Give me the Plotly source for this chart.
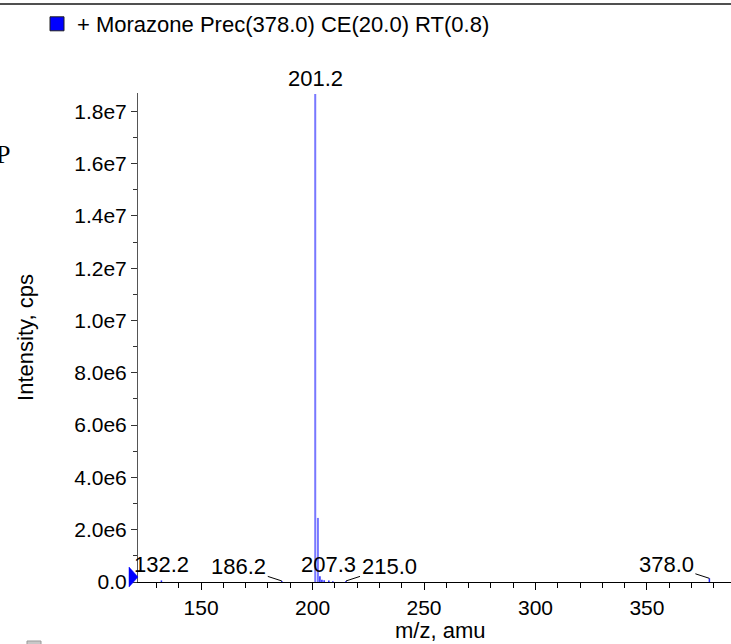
import plotly.graph_objects as go

# ---- data ----
mz = [132.2, 186.2, 201.2, 202.4, 203.3, 204.2, 205.2, 207.3, 209.1, 215.0, 378.0]
intensity = [6e4, 4e4, 1.866e7, 2.45e6, 2.2e5, 9e4, 7e4, 6e4, 3e4, 4e4, 1.4e5]
label_mz = [132.2, 186.2, 201.2, 207.3, 215.0, 378.0]
label_text = ["132.2", "186.2", "201.2", "207.3", "215.0", "378.0"]
y_tickvals = [0, 2e6, 4e6, 6e6, 8e6, 1.0e7, 1.2e7, 1.4e7, 1.6e7, 1.8e7]
y_ticktext = ["0.0", "2.0e6", "4.0e6", "6.0e6", "8.0e6", "1.0e7", "1.2e7", "1.4e7", "1.6e7", "1.8e7"]
x_range = [121.7, 387.7]
y_range = [0, 1.87e7]
series_name = "+ Morazone Prec(378.0) CE(20.0) RT(0.8)"
x_title = "m/z, amu"
y_title = "Intensity, cps"

FONT = "Liberation Sans, Arial, Helvetica, sans-serif"
L, T, B = 138, 93, 62
W, H = 731, 644
PW, PH = W - L, H - T - B


def px_x(p):
    return (p - L) / PW


def px_y(p):
    return (H - B - p) / PH


def sticks(xs, ys):
    sx, sy = [], []
    for a, b in zip(xs, ys):
        sx += [a, a, None]
        sy += [0, b, None]
    return sx, sy


big = [(a, b) for a, b in zip(mz, intensity) if b >= 1e6]
small = [(a, b) for a, b in zip(mz, intensity) if b < 1e6]

fig = go.Figure()
sx, sy = sticks([a for a, _ in small], [b for _, b in small])
fig.add_trace(go.Scatter(x=sx, y=sy, mode="lines", line=dict(color="#2020ff", width=1.5),
                         showlegend=False, hoverinfo="skip"))
bx, by = sticks([a for a, _ in big], [b for _, b in big])
fig.add_trace(go.Scatter(x=bx, y=by, mode="lines", line=dict(color="#7878ff", width=2),
                         showlegend=False, hoverinfo="skip"))
# legend entry
fig.add_trace(go.Scatter(x=[None], y=[None], mode="markers", name=series_name,
                         marker=dict(symbol="square", color="#0000ff", size=14,
                                     line=dict(color="#202020", width=1))))

# peak labels
lookup = dict(zip(mz, intensity))
offsets = {"132.2": None, "186.2": (-43, -14), "201.2": None, "207.3": None,
           "215.0": (43, -14), "378.0": (-43, -14)}
for m, t in zip(label_mz, label_text):
    off = offsets[t]
    if off is None:
        fig.add_annotation(x=m, y=lookup[m], text=t, showarrow=False, yanchor="bottom",
                           yshift=1, font=dict(family=FONT, size=22, color="black"))
    else:
        fig.add_annotation(x=m, y=lookup[m], text=t, showarrow=True, ax=off[0], ay=off[1],
                           arrowhead=0, arrowwidth=1, arrowcolor="black", standoff=0,
                           font=dict(family=FONT, size=22, color="black"))

# x axis title
fig.add_annotation(xref="paper", yref="paper", x=px_x(440), y=px_y(630), text=x_title,
                   showarrow=False, xanchor="center", yanchor="middle",
                   font=dict(family=FONT, size=22, color="black"))

# blue triangle marker on the y axis at zero
fig.add_shape(type="path", xref="paper", yref="paper", xsizemode="pixel", ysizemode="pixel",
              xanchor=0, yanchor=0, path="M -9,15 L 0,5 L -9,-5 Z",
              fillcolor="#0000ff", line=dict(color="#0000ff", width=0.5))

# stray clipped glyph at left edge
fig.add_annotation(xref="paper", yref="paper", x=px_x(12), y=px_y(154),
                   text="P", showarrow=False, xanchor="right", yanchor="middle",
                   font=dict(family="Liberation Serif, serif", size=26, color="black"))

# top frame line
fig.add_shape(type="line", xref="paper", yref="paper", x0=px_x(0), x1=px_x(W),
              y0=px_y(4), y1=px_y(4), line=dict(color="#505050", width=2))
# partially visible square at bottom left
fig.add_shape(type="rect", xref="paper", yref="paper",
              x0=px_x(27), x1=px_x(41), y0=px_y(656), y1=px_y(641),
              fillcolor="#c8c8c8", line=dict(color="#999999", width=1))

fig.update_layout(
    width=W, height=H,
    margin=dict(l=L, r=0, t=T, b=B),
    paper_bgcolor="white", plot_bgcolor="white",
    font=dict(family=FONT, size=21, color="black"),
    showlegend=True,
    legend=dict(x=px_x(37), y=px_y(3), xanchor="left", yanchor="top",
                bgcolor="rgba(0,0,0,0)", font=dict(family=FONT, size=22, color="black"),
                itemwidth=30),
    xaxis=dict(range=x_range, showgrid=False, zeroline=False, showline=True,
               linecolor="black", linewidth=1, ticks="outside", ticklen=7,
               tickcolor="black", tick0=150, dtick=50,
               minor=dict(ticks="outside", dtick=10, ticklen=5, tickcolor="black"),
               tickfont=dict(family=FONT, size=21)),
    yaxis=dict(range=y_range, showgrid=False, zeroline=False, showline=True,
               linecolor="#555555", linewidth=1, ticks="outside", ticklen=6,
               tickcolor="#333333", tickvals=y_tickvals, ticktext=y_ticktext,
               minor=dict(ticks="outside", dtick=1e6, ticklen=4, tickcolor="#333333"),
               tickfont=dict(family=FONT, size=21),
               title=dict(text=y_title, font=dict(family=FONT, size=22), standoff=34)),
)

fig.write_html("out.html", config={"displayModeBar": False},
               post_script="document.body.style.margin='0';document.body.style.overflow='hidden';")
